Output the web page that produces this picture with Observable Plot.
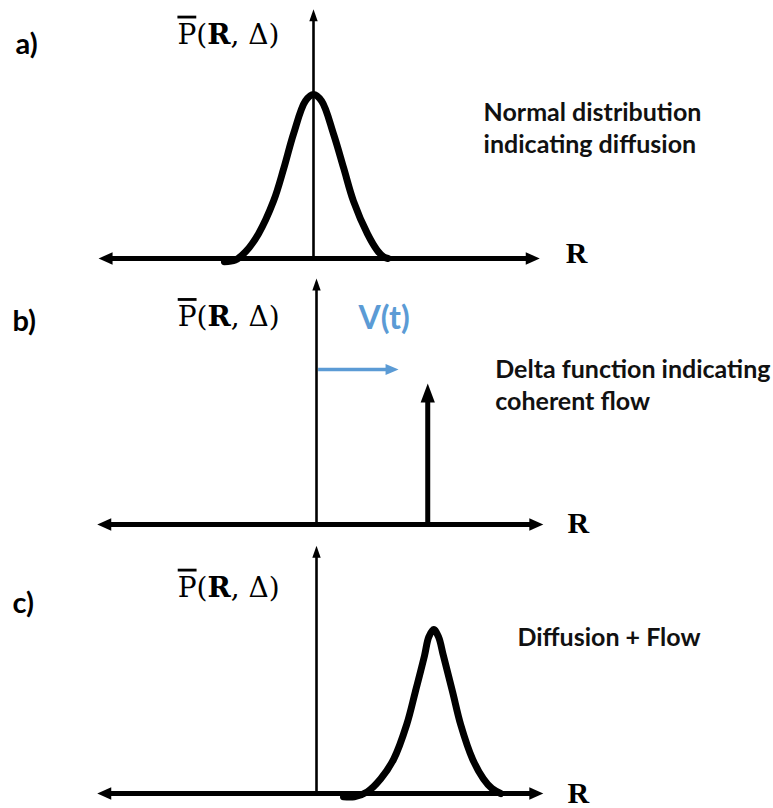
<!DOCTYPE html>
<html><head><meta charset="utf-8">
<script src="https://cdn.jsdelivr.net/npm/d3@7"></script>
<script src="https://cdn.jsdelivr.net/npm/@observablehq/plot@0.6"></script>
<style>
body{margin:0;background:#fff;}
#chart svg{display:block;overflow:visible;background:#fff;}
</style>
</head><body><div id="chart"></div>
<script>
// ---- texts ----
const panelLabels = ["a)", "b)", "c)"];
const yLabelParts = [["P", "over"], ["(", ""], ["R", "bold"], [", Δ)", ""]];
const yLabel = yLabelParts.map(d => d[0]).join("");
const xLabel = "R";
const notes = ["Normal distribution\nindicating diffusion", "Delta function indicating\ncoherent flow", "Diffusion + Flow"];
const flowLabel = "V(t)";

// ---- panel a: normal distribution (R, P) ----
const curveA_R = [-1.65, -1.45, -1.26, -1.02, -0.74, -0.55, -0.37, -0.15, 0, 0.15, 0.37, 0.56, 0.74, 1.0, 1.18, 1.3, 1.38];
const curveA_P = [-0.02, -0.01, 0.04, 0.15, 0.35, 0.55, 0.76, 0.96, 1.0, 0.96, 0.76, 0.55, 0.35, 0.15, 0.05, 0.01, 0.0];

// ---- panel b: delta function + flow ----
const deltaR = [2.06];
const deltaP = [0.86];
const flowR = [0.03, 1.52];
const flowP = [0.945];

// ---- panel c: diffusion + flow ----
const curveC_R = [0.5, 0.7, 0.94, 1.19, 1.43, 1.67, 1.83, 2.0, 2.08, 2.17, 2.26, 2.35, 2.52, 2.67, 2.89, 3.09, 3.25, 3.41];
const curveC_P = [-0.02, -0.02, 0.01, 0.09, 0.21, 0.42, 0.62, 0.84, 0.955, 1.0, 0.955, 0.84, 0.62, 0.42, 0.21, 0.09, 0.03, 0.0];

// ---- layout (R / P units) ----
const layout = [
  {height: 270, x0: 313, y0: 258, left: -3.98, right: 4.19, top: 1.52, tag: [-5.52, 1.25], ylab: [-2.52, 1.31], xlab: [4.67, -0.03], note: [3.15, 0.646]},
  {height: 270, x0: 316, y0: 254, left: -4.06, right: 4.2, top: 1.5, tag: [-5.63, 1.18], ylab: [-2.57, 1.21], xlab: [4.65, -0.05], note: [3.31, 0.70], flowText: [0.78, 1.19]},
  {height: 268, x0: 316, y0: 253, left: -4.06, right: 4.2, top: 1.51, tag: [-5.63, 1.10], ylab: [-2.57, 1.20], xlab: [4.65, -0.06], note: [3.72, 0.90]}
];

const SANS = "Lato, 'Open Sans', sans-serif";
const SERIF = "'DejaVu Serif', serif";
const BLUE = "#5B9BD5";

// filled arrowhead symbol: tip at origin, pointing up
const arrowhead = (ratio) => ({
  draw(context, size) {
    const L = Math.sqrt(size / Math.PI);
    const w = L * ratio / 2;
    context.moveTo(0, 0);
    context.lineTo(w, L);
    context.lineTo(-w, L);
    context.closePath();
  }
});

const pts = (R, P) => R.map((r, i) => ({R: r, P: P[i]}));

function panel(i) {
  const L = layout[i];
  const marks = [];
  const hAxis = [{x1: L.left, x2: L.right, y: 0}];
  const vAxis = [{x: 0, y1: 0, y2: L.top}];

  if (i === 0) marks.push(Plot.line(pts(curveA_R, curveA_P), {x: "R", y: "P", curve: "catmull-rom", stroke: "black", strokeWidth: 7, strokeLinecap: "round", strokeLinejoin: "round"}));
  if (i === 2) marks.push(Plot.line(pts(curveC_R, curveC_P), {x: "R", y: "P", curve: "catmull-rom", stroke: "black", strokeWidth: 7, strokeLinecap: "round", strokeLinejoin: "round"}));

  // horizontal axis
  marks.push(Plot.arrow(hAxis, {x1: "x1", x2: "x2", y1: "y", y2: "y", stroke: "black", strokeWidth: 5, headLength: 0, insetStart: 8, insetEnd: 8, strokeLinecap: "butt"}));
  marks.push(Plot.dot([{x: L.left, y: 0, rot: -90}, {x: L.right, y: 0, rot: 90}], {x: "x", y: "y", rotate: "rot", symbol: arrowhead(0.9), r: 14, fill: "black", stroke: "none"}));
  // vertical axis
  marks.push(Plot.arrow(vAxis, {x1: "x", x2: "x", y1: "y1", y2: "y2", stroke: "black", strokeWidth: 2.6, headLength: 0, insetEnd: 6, strokeLinecap: "butt"}));
  marks.push(Plot.dot([{x: 0, y: L.top, rot: 0}], {x: "x", y: "y", rotate: "rot", symbol: arrowhead(0.7), r: 12, fill: "black", stroke: "none"}));

  if (i === 1) {
    const d = deltaR.map((r, k) => ({x: r, y1: 0, y2: deltaP[k]}));
    marks.push(Plot.arrow(d, {x1: "x", x2: "x", y1: "y1", y2: "y2", stroke: "black", strokeWidth: 5, headLength: 0, insetEnd: 10, strokeLinecap: "butt"}));
    marks.push(Plot.dot(d, {x: "x", y: "y2", rotate: 0, symbol: arrowhead(0.75), r: 19, fill: "black", stroke: "none"}));
    const f = [{x1: flowR[0], x2: flowR[1], y: flowP[0]}];
    marks.push(Plot.arrow(f, {x1: "x1", x2: "x2", y1: "y", y2: "y", stroke: BLUE, strokeWidth: 3.5, headLength: 0, insetEnd: 8, strokeLinecap: "butt"}));
    marks.push(Plot.dot(f, {x: "x2", y: "y", rotate: 90, symbol: arrowhead(0.85), r: 13, fill: BLUE, stroke: "none"}));
    marks.push(Plot.text([{x: L.flowText[0], y: L.flowText[1], t: flowLabel}], {x: "x", y: "y", text: "t", textAnchor: "start", lineAnchor: "bottom", fontFamily: SANS, fontWeight: "bold", fontSize: 32, fill: BLUE}));
  }

  // texts
  marks.push(Plot.text([{x: L.tag[0], y: L.tag[1], t: panelLabels[i]}], {x: "x", y: "y", text: "t", textAnchor: "start", lineAnchor: "bottom", fontFamily: SANS, fontWeight: "bold", fontSize: 29, fill: "black"}));
  marks.push(Plot.text([{x: L.ylab[0], y: L.ylab[1], t: yLabel}], {x: "x", y: "y", text: "t", textAnchor: "start", lineAnchor: "bottom", fontFamily: SERIF, fontSize: 28, fill: "black"}));
  marks.push(Plot.text([{x: L.xlab[0], y: L.xlab[1], t: xLabel}], {x: "x", y: "y", text: "t", textAnchor: "start", lineAnchor: "bottom", fontFamily: "'Liberation Serif', serif", fontWeight: "bold", fontSize: 30, fill: "black"}));
  marks.push(Plot.text([{x: L.note[0], y: L.note[1], t: notes[i]}], {x: "x", y: "y", text: "t", textAnchor: "start", lineAnchor: "bottom", lineHeight: 1.27, fontFamily: SANS, fontWeight: "bold", fontSize: 25, fill: "#111"}));

  const svg = Plot.plot({
    width: 773, height: L.height, margin: 0,
    x: {type: "linear", domain: [0, 1], range: [L.x0, L.x0 + 54], axis: null},
    y: {type: "linear", domain: [0, 1], range: [L.y0, L.y0 - 164], axis: null},
    marks
  });

  d3.select(svg).selectAll("text").filter(function () { return this.textContent === yLabel; }).each(function () {
    const t = d3.select(this);
    t.text(null);
    for (const [s, style] of yLabelParts) {
      const sp = t.append("tspan").text(s);
      if (style === "over") sp.attr("text-decoration", "overline").style("text-decoration", "overline");
      if (style === "bold") sp.attr("font-weight", "bold");
    }
  });
  return svg;
}

const chart = document.getElementById("chart");
for (let i = 0; i < 3; ++i) chart.appendChild(panel(i));
</script>
</body></html>
